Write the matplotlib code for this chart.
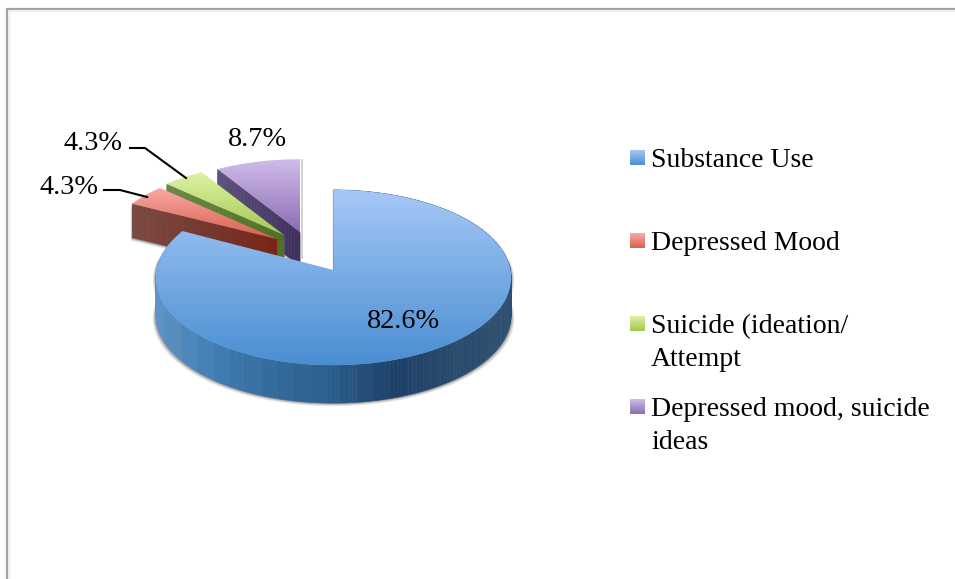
import numpy as np
import matplotlib
matplotlib.use('Agg')
import matplotlib.pyplot as plt
from matplotlib.collections import PolyCollection
from matplotlib.colors import LinearSegmentedColormap
from matplotlib.patches import Polygon

categories = ['Substance Use', 'Depressed Mood', 'Suicide (ideation/\nAttempt', 'Depressed mood, suicide\nideas']
percents = [82.6, 4.3, 4.3, 8.7]

# pie geometry in figure pixels, one entry per slice
APEX = [(333.5, 270), (277, 239), (284, 235), (300, 232)]
RADIUS_X = [177, 170, 170, 170]
RADIUS_Y = [87, 79, 79, 79]
DEPTH = [38, 34, 34, 34]
TILT = 0.0857

TOP_COLORS = [('#a6c8f7', '#4a8ed2'), ('#fbaaa7', '#d8604f'), ('#def2a6', '#a3c84f'), ('#d0bcea', '#8c6cb4')]
SIDE_COLORS = [
    ['#5d93c8', '#3f7cb2', '#336a9a', '#2b5d8b', '#1e4068', '#284a6c', '#2d4f72'],
    ['#7b4a44', '#75392f', '#7a2418'],
    ['#6b8a48', '#4f7024'],
    ['#5f5280', '#3f2f5c'],
]

LABEL_POS = [(403, 321), (69, 187), (93, 143), (257, 140)]
LEADERS = [None, [(104, 190), (120, 190), (147, 197)], [(130, 148), (145, 148), (186, 178)], None]
LEGEND_Y = [157, 240, 323, 406]
FONT = 'Liberation Serif'


def project(i, theta):
    # theta is clockwise from 12 o'clock, the far side of the pie looks smaller
    u, v = np.sin(theta), np.cos(theta)
    w = 1 + TILT * v
    return np.column_stack([APEX[i][0] + RADIUS_X[i] * u / w, APEX[i][1] - RADIUS_Y[i] * v / w])


def gradient_fill(ax, pts, colors, zorder):
    cmap = LinearSegmentedColormap.from_list('face', colors)
    patch = Polygon(pts, closed=True, facecolor='none', edgecolor='none', transform=ax.transData)
    ax.add_patch(patch)
    x0, y0 = pts.min(axis=0)
    x1, y1 = pts.max(axis=0)
    img = ax.imshow(np.linspace(0, 1, 256)[:, None], cmap=cmap, aspect='auto', extent=(x0, x1, y1, y0),
                    interpolation='bilinear', zorder=zorder)
    img.set_clip_path(patch)


def side_wall(ax, pts, depth, stops, zorder, x_range=None, bands=None):
    # extrude a polyline downwards, the shade follows x
    cmap = LinearSegmentedColormap.from_list('side', stops)
    x0, x1 = x_range if x_range else (pts[:, 0].min(), pts[:, 0].max())
    polys, cols = [], []
    for a, b in zip(pts[:-1], pts[1:]):
        polys.append([a, b, b + [0, depth], a + [0, depth]])
        t = ((a[0] + b[0]) / 2 - x0) / (x1 - x0)
        if bands:
            t = np.round(t * bands) / bands
        cols.append(cmap(t))
    ax.add_collection(PolyCollection(polys, facecolors=cols, edgecolors=cols, linewidths=0.3, zorder=zorder))


def soft_shadow(ax, pts, zorder):
    for grow, alpha in [(3.0, 0.15), (2.0, 0.25), (1.0, 0.4)]:
        shifted = pts + [0, grow]
        mid = pts[:, 0].mean()
        shifted[:, 0] = mid + (shifted[:, 0] - mid) * (1 + grow / 170)
        ax.add_patch(Polygon(shifted, closed=True, facecolor='#6a6a6a', edgecolor='none', alpha=alpha, zorder=zorder))


fig = plt.figure(figsize=(9.55, 5.79), dpi=100)
ax = fig.add_axes([0, 0, 1, 1])
ax.axis('off')

# chart frame, only the top and left sides are in view
ax.plot([7, 7, 955], [579, 9, 9], color='#a3a3a3', lw=1.6, solid_joinstyle='miter', zorder=1)
ax.plot([9, 9, 955], [579, 11, 11], color='#ececec', lw=0.8, solid_joinstyle='miter', zorder=1)

edges = np.cumsum([0] + percents) / np.sum(percents) * 2 * np.pi

# back slices first so the nearer ones cover them
for i in [3, 2, 1]:
    z = 10 + (3 - i) * 3
    theta = np.linspace(edges[i], edges[i + 1], 40)
    arc = project(i, theta)
    apex = np.array(APEX[i], dtype=float)
    top = np.vstack([apex, arc])
    radial = apex + np.linspace(0, 1, 30)[:, None] * (arc[0] - apex)
    radial = radial[::-1]
    soft_shadow(ax, np.vstack([radial, radial[::-1] + [0, DEPTH[i]]]), z - 1)
    side_wall(ax, radial, DEPTH[i], SIDE_COLORS[i], z)
    gradient_fill(ax, top, TOP_COLORS[i], z + 1)

# thin shadow beside the upright edge of the purple slice
ax.plot([302, 302], [APEX[3][1] - 72, APEX[3][1] + 26], color='#b5b5b5', lw=1.2, alpha=0.7, zorder=9)

# large slice in front
theta = np.linspace(edges[0], edges[1], 240)
arc = project(0, theta)
top = np.vstack([np.array(APEX[0], dtype=float), arc])
front = arc[(theta > np.pi * 0.45) & (theta < np.pi * 1.55)]
soft_shadow(ax, np.vstack([front, front[::-1] + [0, DEPTH[0]]]), 19)
side_wall(ax, arc, DEPTH[0], SIDE_COLORS[0], 20, x_range=(arc[:, 0].min(), arc[:, 0].max()), bands=22)
gradient_fill(ax, top, TOP_COLORS[0], 21)
ax.plot([APEX[0][0] - 1, APEX[0][0] - 1], [APEX[0][1] - 80, APEX[0][1]], color='#8c8c8c', lw=0.9, zorder=20)

# value labels and leader lines
for value, pos, leader in zip(percents, LABEL_POS, LEADERS):
    ax.text(pos[0], pos[1], f'{value:.1f}%', family=FONT, fontsize=20.3, color='black',
            ha='center', va='center', zorder=30)
    if leader:
        xs, ys = zip(*leader)
        ax.plot(xs, ys, color='black', lw=1.5, zorder=29)

# legend
for name, colors, y in zip(categories, TOP_COLORS, LEGEND_Y):
    square = np.array([[630, y - 7], [645, y - 7], [645, y + 8], [630, y + 8]], dtype=float)
    gradient_fill(ax, square, colors, 25)
    ax.text(651, y - 9, name, family=FONT, fontsize=20, color='black', ha='left', va='top',
            linespacing=1.4, zorder=30)

ax.set_xlim(0, 955)
ax.set_ylim(579, 0)

fig.savefig('out.png', dpi=100, facecolor='white')
